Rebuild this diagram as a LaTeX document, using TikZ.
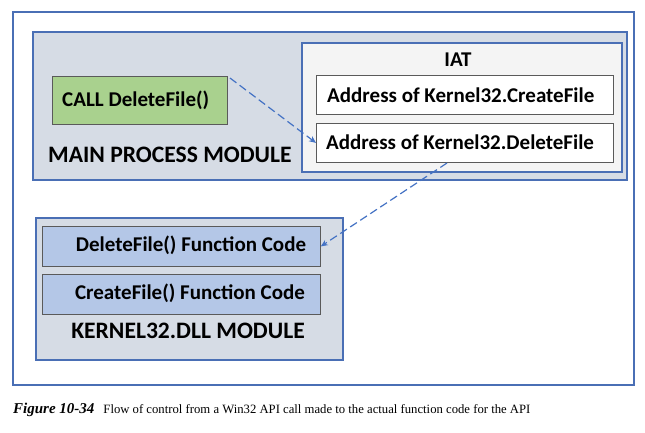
\documentclass[tikz,border=0pt]{standalone}
\usepackage{fontspec}
\setmainfont{Carlito}
\newfontfamily\capfont{Liberation Serif}
\usetikzlibrary{arrows.meta}
\definecolor{modblue}{HTML}{4A6FB5}
\definecolor{modfill}{HTML}{D6DCE5}
\definecolor{iatfill}{HTML}{F4F4F4}
\definecolor{greenfill}{HTML}{A9D18E}
\definecolor{funcfill}{HTML}{B4C7E7}
\definecolor{boxgray}{HTML}{5A5A5A}
\definecolor{arrowblue}{HTML}{4472C4}
\begin{document}
\begin{tikzpicture}[x=1pt,y=-1pt,
  lbl/.style={font=\fontsize{21}{24}\selectfont\bfseries, inner sep=0pt},
  biglbl/.style={font=\fontsize{23.6}{26}\selectfont\bfseries, inner sep=0pt},
  modbox/.style={draw=modblue, line width=1.2pt, fill=modfill},
  innerbox/.style={draw=boxgray, line width=0.8pt},
  flowarrow/.style={draw=arrowblue, line width=1.2pt, dash pattern=on 8pt off 4pt, -{Stealth[length=7pt,width=6pt]}}]
\useasboundingbox (0,0) rectangle (645,432);
\fill[white] (0,0) rectangle (645,432);
% outer frame
\draw[draw=modblue, line width=1.2pt] (13,12) rectangle (634,385);
% main process module
\draw[modbox] (33,32) rectangle (627,180);
\node[biglbl, anchor=west] (mainlbl) at (48,155) {MAIN PROCESS MODULE};
% call box
\node[innerbox, fill=greenfill, minimum width=175pt, minimum height=48pt, inner sep=0pt, anchor=north west] (call) at (52,76) {};
\node[lbl, anchor=west] (calltxt) at (62,100) {CALL DeleteFile()};
% IAT
\draw[draw=modblue, line width=1.2pt, fill=iatfill] (302,43) rectangle (622,172);
\node[lbl] (iat) at (458,60) {IAT};
\node[innerbox, fill=white, minimum width=297pt, minimum height=39pt, anchor=north west, inner sep=0pt] (addrC) at (316,75) {};
\node[lbl, anchor=west] at (327,95) {Address of Kernel32.CreateFile};
\node[innerbox, fill=white, minimum width=297pt, minimum height=39pt, anchor=north west, inner sep=0pt] (addrD) at (316,123) {};
\node[lbl, anchor=west] at (326,142) {Address of Kernel32.DeleteFile};
% kernel32 module
\draw[modbox] (36,218) rectangle (343,360);
\node[innerbox, fill=funcfill, minimum width=278pt, minimum height=40pt, anchor=north west, inner sep=0pt] (funcD) at (42,226) {};
\node[lbl] at (191,245) {DeleteFile() Function Code};
\node[innerbox, fill=funcfill, minimum width=278pt, minimum height=40pt, anchor=north west, inner sep=0pt] (funcC) at (42,274) {};
\node[lbl] at (190,293) {CreateFile() Function Code};
\node[biglbl] (kernlbl) at (188,331) {KERNEL32.DLL MODULE};
% arrows
\coordinate (a1s) at (230,78);
\coordinate (a2s) at (447,163);
\draw[flowarrow] (a1s) -- (addrD.west);
\draw[flowarrow] (a2s) -- (funcD.east);
% caption
\node[anchor=west, inner sep=0pt] (cap) at (13,410) {\capfont{\fontsize{15}{17}\selectfont\bfseries\itshape Figure 10-34}\hspace{9pt}{\fontsize{12.7}{14}\selectfont Flow of control from a Win32 API call made to the actual function code for the API}};
\end{tikzpicture}
\end{document}
